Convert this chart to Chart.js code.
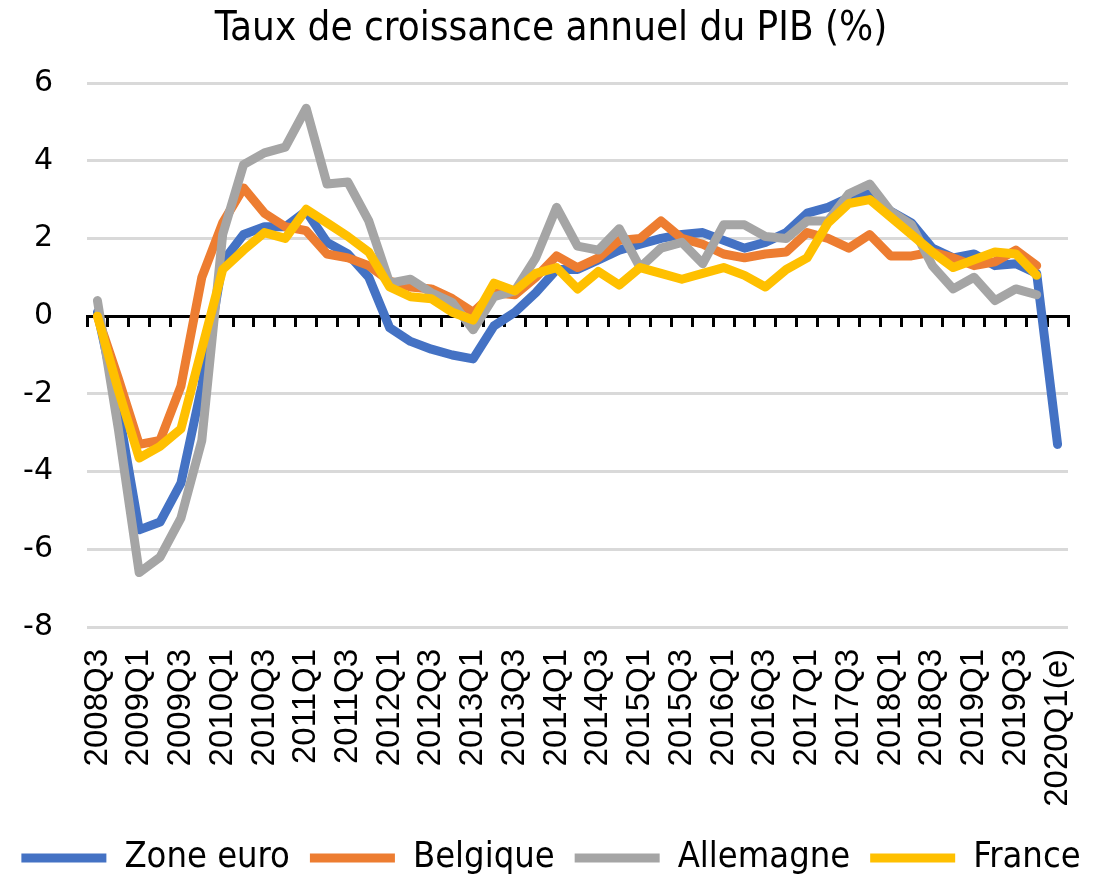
<!DOCTYPE html>
<html>
<head>
<meta charset="utf-8">
<script src="https://cdn.jsdelivr.net/npm/chart.js@4.4.0/dist/chart.umd.min.js"></script>
<style>
  body { margin: 0; background: #fff; }
</style>
</head>
<body>
<canvas id="pibChart" width="1102" height="876"></canvas>
<script>
// Trimestres 2008Q3 -> 2020Q1(e)
const trimestres = [
  '2008Q3','2008Q4','2009Q1','2009Q2','2009Q3','2009Q4',
  '2010Q1','2010Q2','2010Q3','2010Q4','2011Q1','2011Q2','2011Q3','2011Q4',
  '2012Q1','2012Q2','2012Q3','2012Q4','2013Q1','2013Q2','2013Q3','2013Q4',
  '2014Q1','2014Q2','2014Q3','2014Q4','2015Q1','2015Q2','2015Q3','2015Q4',
  '2016Q1','2016Q2','2016Q3','2016Q4','2017Q1','2017Q2','2017Q3','2017Q4',
  '2018Q1','2018Q2','2018Q3','2018Q4','2019Q1','2019Q2','2019Q3','2019Q4',
  '2020Q1(e)'
];

const zoneEuro = [0.1, -2.4, -5.5, -5.3, -4.3, -1.8, 1.4, 2.1, 2.3, 2.3, 2.7, 1.9, 1.6, 1.0,
  -0.3, -0.65, -0.85, -1.0, -1.1, -0.25, 0.1, 0.6, 1.2, 1.2, 1.45, 1.7, 1.85, 2.0, 2.1, 2.15,
  1.95, 1.75, 1.9, 2.15, 2.65, 2.8, 3.05, 3.15, 2.7, 2.4, 1.75, 1.5, 1.6, 1.3, 1.35, 1.1, -3.3];

const belgique = [0.0, -1.6, -3.3, -3.2, -1.8, 1.0, 2.4, 3.3, 2.65, 2.3, 2.2, 1.6, 1.5, 1.3,
  0.9, 0.75, 0.7, 0.45, 0.1, 0.6, 0.55, 1.0, 1.55, 1.25, 1.5, 1.95, 2.0, 2.45, 2.0, 1.85,
  1.6, 1.5, 1.6, 1.65, 2.15, 2.0, 1.75, 2.1, 1.55, 1.55, 1.65, 1.5, 1.3, 1.4, 1.7, 1.3];

const allemagne = [0.4, -2.9, -6.6, -6.2, -5.2, -3.2, 2.1, 3.9, 4.2, 4.35, 5.35, 3.4, 3.45, 2.45,
  0.85, 0.95, 0.6, 0.35, -0.35, 0.5, 0.65, 1.5, 2.8, 1.8, 1.7, 2.25, 1.25, 1.75, 1.9, 1.35,
  2.35, 2.35, 2.05, 2.0, 2.45, 2.45, 3.15, 3.4, 2.7, 2.35, 1.3, 0.7, 1.0, 0.4, 0.7, 0.55];

const france = [0.0, -1.9, -3.65, -3.35, -2.9, -0.85, 1.2, 1.7, 2.15, 2.0, 2.75, 2.4, 2.05, 1.65,
  0.75, 0.5, 0.45, 0.1, -0.1, 0.85, 0.65, 1.1, 1.25, 0.7, 1.15, 0.8, 1.25, 1.1, 0.95, 1.1,
  1.25, 1.05, 0.75, 1.2, 1.5, 2.4, 2.9, 3.0, 2.55, 2.1, 1.65, 1.25, 1.45, 1.65, 1.6, 1.05];

const yTicks = [6, 4, 2, 0, -2, -4, -6, -8];

const fontTitre = "'DejaVu Sans Condensed', 'DejaVu Sans', sans-serif";

function serie(label, data, color, order) {
  return {
    label: label,
    data: data,
    borderColor: color,
    backgroundColor: color,
    borderWidth: 9,
    borderCapStyle: 'round',
    borderJoinStyle: 'round',
    pointRadius: 0,
    tension: 0,
    order: order,
    xAxisID: 'x',
    yAxisID: 'y'
  };
}

var ctx = document.getElementById('pibChart').getContext('2d');
var pibChart = new Chart(ctx, {
  type: 'line',
  data: {
    labels: trimestres,
    datasets: [
      serie('Zone euro', zoneEuro, '#4472C4', 4),
      serie('Belgique', belgique, '#ED7D31', 3),
      serie('Allemagne', allemagne, '#A5A5A5', 2),
      serie('France', france, '#FFC000', 1)
    ]
  },
  options: {
    responsive: false,
    animation: false,
    layout: { padding: { left: 0, right: 0, top: 0, bottom: -10 } },
    plugins: {
      title: {
        display: true,
        text: 'Taux de croissance annuel du PIB (%)',
        color: '#000',
        font: { family: fontTitre, size: 40, weight: 'normal' },
        padding: { top: 6, bottom: 29 }
      },
      legend: {
        position: 'bottom',
        labels: {
          color: '#000',
          font: { family: fontTitre, size: 36 },
          usePointStyle: true,
          pointStyle: 'line',
          pointStyleWidth: 85,
          boxHeight: 9,
          padding: 20,
          sort: (a, b) => a.datasetIndex - b.datasetIndex
        }
      },
      tooltip: { enabled: false }
    },
    scales: {
      x: {
        type: 'category',
        offset: true,
        grid: { display: false, drawTicks: false, offset: true },
        border: { display: false },
        ticks: {
          autoSkip: false,
          maxRotation: 90,
          minRotation: 90,
          padding: 22,
          color: '#000',
          font: { family: "'Liberation Sans', Arial, sans-serif", size: 33 },
          callback: function(value, index) {
            return index % 2 === 0 ? trimestres[index] : '';
          }
        },
        afterFit: function(scale) {
          scale.height = 193;
          scale.paddingLeft = 0;
          scale.paddingRight = 34;
        }
      },
      x0: {
        type: 'category',
        position: { y: 0 },
        offset: true,
        grid: {
          display: true,
          drawOnChartArea: false,
          drawTicks: true,
          tickLength: 9,
          offset: true,
          color: '#000',
          lineWidth: 3
        },
        border: { display: true, color: '#000', width: 3 },
        ticks: { display: false, autoSkip: false }
      },
      y: {
        min: -8,
        max: 6,
        afterBuildTicks: function(scale) {
          scale.ticks = yTicks.map(v => ({ value: v }));
        },
        afterFit: function(scale) {
          scale.width = 87;
        },
        grid: { color: '#d9d9d9', lineWidth: 3, drawTicks: false },
        border: { display: false },
        ticks: {
          padding: 34,
          color: '#000',
          font: { family: "'DejaVu Sans', sans-serif", size: 30 }
        }
      }
    }
  }
});
</script>
</body>
</html>
